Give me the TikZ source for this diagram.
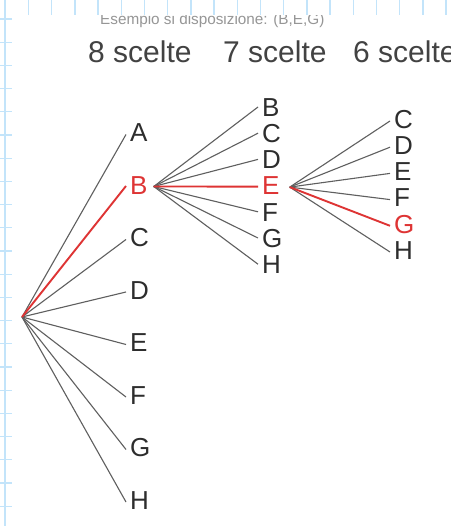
\documentclass[tikz,border=0pt]{standalone}
\usepackage{fontspec}
\setmainfont{Liberation Sans}
\definecolor{txt}{RGB}{45,45,45}
\definecolor{myred}{RGB}{222,52,52}
\definecolor{lgray}{RGB}{95,95,95}
\definecolor{gridblue}{RGB}{195,228,250}
\definecolor{subgray}{RGB}{150,150,150}
\begin{document}
\begin{tikzpicture}[x=1pt,y=-1pt,
  lt/.style={font=\fontsize{26}{26}\selectfont, text=txt, inner sep=0pt, anchor=west, text height=18.6pt, text depth=0pt},
  rlt/.style={lt, text=myred},
  ttl/.style={font=\fontsize{30}{30}\selectfont, text=txt!90, inner sep=0pt, anchor=base west},
  br/.style={draw=lgray, line width=1.1pt},
  rbr/.style={draw=myred, line width=1.9pt},
  gridline/.style={draw=gridblue, line width=1.3pt}]
\useasboundingbox (0,0) rectangle (450,526);
\fill[white] (0,0) rectangle (450,526);
% graph-paper margin
\draw[gridline] (5,0) -- (5,526);
\foreach \i in {0,...,21} \draw[gridline] (0,{19+23.2*\i}) -- (12,{19+23.2*\i});
\foreach \i in {0,...,18} \draw[gridline] ({28.5+23.2*\i},0) -- ({28.5+23.2*\i},15);
% subtitle (clipped at the top)
\begin{scope}
\clip (0,15.5) rectangle (450,526);
\node[font=\fontsize{15.3}{15.3}\selectfont, text=subgray, inner sep=0pt, anchor=base west] (sub) at (100,24.5) {Esempio si disposizione: (B,E,G)};
\end{scope}
% titles
\node[ttl] (t8) at (88,63) {8 scelte};
\node[ttl] (t7) at (223,63) {7 scelte};
\node[ttl] (t6) at (353,63) {6 scelte};
% column 1
\node[lt]  (a1) at (130,132.5) {A};
\node[rlt] (b1) at (130,185) {B};
\node[lt]  (c1) at (130,237.5) {C};
\node[lt]  (d1) at (130,290) {D};
\node[lt]  (e1) at (130,342.5) {E};
\node[lt]  (f1) at (130,395) {F};
\node[lt]  (g1) at (130,447.5) {G};
\node[lt]  (h1) at (130,500) {H};
% column 2
\node[lt]  (b2) at (262,107) {B};
\node[lt]  (c2) at (262,133.2) {C};
\node[lt]  (d2) at (262,159.4) {D};
\node[rlt] (e2) at (262,185.6) {E};
\node[lt]  (f2) at (262,211.8) {F};
\node[lt]  (g2) at (262,238) {G};
\node[lt]  (h2) at (262,264.2) {H};
% column 3
\node[lt]  (c3) at (394,119) {C};
\node[lt]  (d3) at (394,145.2) {D};
\node[lt]  (e3) at (394,171.4) {E};
\node[lt]  (f3) at (394,197.6) {F};
\node[rlt] (g3) at (394,223.8) {G};
\node[lt]  (h3) at (394,250) {H};
% branch points
\coordinate (r) at (22,317);
\coordinate (pb) at ([xshift=6pt,yshift=-1.5pt]b1.east);
\coordinate (pe) at ([xshift=10pt,yshift=-1.5pt]e2.east);
% grey branches
\foreach \n in {a1,c1,d1,e1,f1,g1,h1}
  \draw[br] (r) -- ([xshift=-4pt,yshift=-2pt]\n.west);
\foreach \n in {b2,c2,d2,f2,g2,h2}
  \draw[br] (pb) -- ([xshift=-4pt]\n.west);
\foreach \n in {c3,d3,e3,f3,h3}
  \draw[br] (pe) -- ([xshift=-4pt,yshift=-2pt]\n.west);
% red path
\draw[rbr] (r) -- ([xshift=-4pt,yshift=-1pt]b1.west);
\draw[rbr] (pb) -- ([xshift=-4pt,yshift=-1pt]e2.west);
\draw[rbr] (pe) -- ([xshift=-4pt,yshift=-2pt]g3.west);
\end{tikzpicture}
\end{document}
